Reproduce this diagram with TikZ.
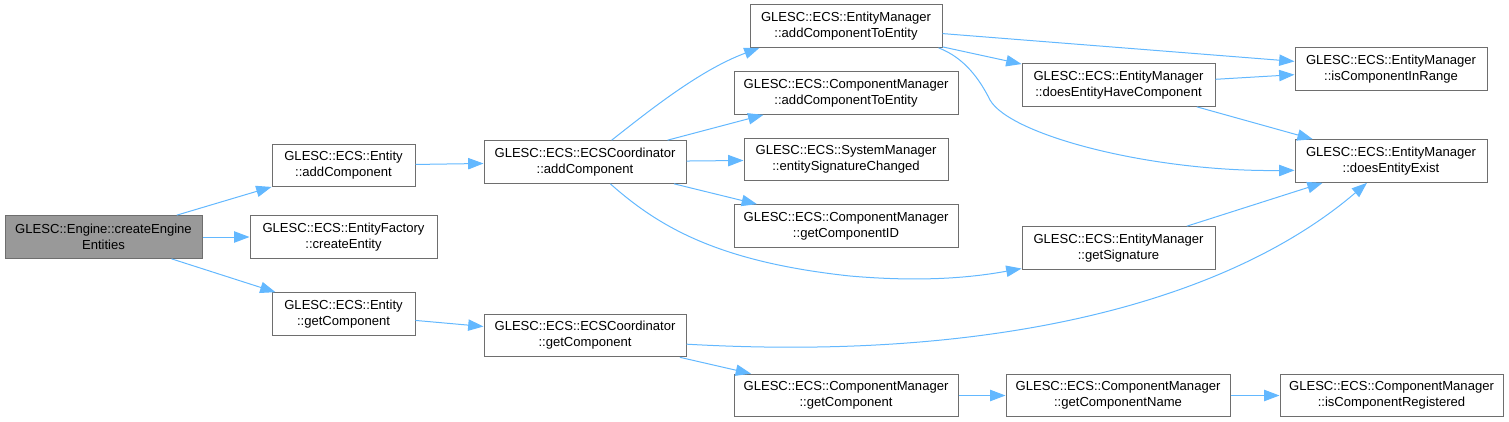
\documentclass[tikz,border=0pt]{standalone}
\usepackage{fontspec}
\setmainfont{Liberation Sans}
\usetikzlibrary{arrows.meta}

\definecolor{callblue}{HTML}{63B8FF}
\definecolor{boxgray}{HTML}{6E6E6E}
\definecolor{rootgray}{HTML}{999999}

\begin{document}
\begin{tikzpicture}[x = 0.75pt, y = -0.75pt, > = {Triangle[length = 11.5pt, width = 8.5pt]},
	fn/.style = {draw = boxgray, fill = white, line width = 0.75pt, align = center, inner sep = 0pt, minimum height = 32pt, font = \fontsize{9.8}{12}\selectfont},
	wd/.style = {minimum width = #1 * 0.75pt},
	call/.style = {->, callblue, line width = 0.75pt}]

	\useasboundingbox (0, 0) rectangle (1509, 421);

	% Caller
	
	\node [fn, wd = 197, fill = rootgray] (root) at (103.5, 237) {GLESC::Engine::createEngine\\Entities};

	% First level
	
	\node [fn, wd = 143] (entAdd) at (343.5, 165.5) {GLESC::ECS::Entity\\::addComponent};
	\node [fn, wd = 187] (factCreate) at (343.5, 237) {GLESC::ECS::EntityFactory\\::createEntity};
	\node [fn, wd = 143] (entGet) at (343.5, 314) {GLESC::ECS::Entity\\::getComponent};

	% Coordinator
	
	\node [fn, wd = 202] (coordAdd) at (585, 162) {GLESC::ECS::ECSCoordinator\\::addComponent};
	\node [fn, wd = 202] (coordGet) at (585, 335.5) {GLESC::ECS::ECSCoordinator\\::getComponent};

	% Managers
	
	\node [fn, wd = 192] (emAddTo) at (846, 26) {GLESC::ECS::EntityManager\\::addComponentToEntity};
	\node [fn, wd = 224] (cmAddTo) at (846, 93) {GLESC::ECS::ComponentManager\\::addComponentToEntity};
	\node [fn, wd = 204] (smChanged) at (846, 159.5) {GLESC::ECS::SystemManager\\::entitySignatureChanged};
	\node [fn, wd = 224] (cmGetID) at (846, 226) {GLESC::ECS::ComponentManager\\::getComponentID};
	\node [fn, wd = 224] (cmGet) at (846, 395.5) {GLESC::ECS::ComponentManager\\::getComponent};

	\node [fn, wd = 193] (emHasComp) at (1118.5, 85) {GLESC::ECS::EntityManager\\::doesEntityHaveComponent};
	\node [fn, wd = 193] (emSignature) at (1118.5, 248) {GLESC::ECS::EntityManager\\::getSignature};
	\node [fn, wd = 224] (cmName) at (1118, 395.5) {GLESC::ECS::ComponentManager\\::getComponentName};

	\node [fn, wd = 192] (emInRange) at (1391, 69) {GLESC::ECS::EntityManager\\::isComponentInRange};
	\node [fn, wd = 192] (emExist) at (1391, 161) {GLESC::ECS::EntityManager\\::doesEntityExist};
	\node [fn, wd = 223] (cmRegistered) at (1391.5, 395.5) {GLESC::ECS::ComponentManager\\::isComponentRegistered};

	% Straight calls
	
	\foreach \a/\b in {root/entAdd, root/factCreate, root/entGet, entAdd/coordAdd, entGet/coordGet,
		coordAdd/cmAddTo, coordAdd/smChanged, coordAdd/cmGetID, coordGet/cmGet, cmGet/cmName, cmName/cmRegistered,
		emAddTo/emInRange, emAddTo/emHasComp, emHasComp/emInRange, emHasComp/emExist, emSignature/emExist}
		\draw [call] (\a) -- (\b);

	% Curved calls
	
	\draw [call] ([xshift = 20pt] coordAdd.north) .. controls (650, 110) and (700, 70) .. ([xshift = 7.5pt] emAddTo.south west);
	\draw [call] ([xshift = 19pt] coordAdd.south) .. controls (660, 228) and (720, 262) .. (850, 276)
		.. controls (930, 283) and (980, 276) .. ([yshift = 1pt] emSignature.south west);
	\draw [call] ([xshift = -3pt] emAddTo.south east) .. controls (965, 58) and (980, 80) .. (990, 100)
		.. controls (1010, 135) and (1150, 172) .. ([yshift = -7pt] emExist.west);
	\draw [call] ([yshift = -6.5pt] coordGet.east) .. controls (1000, 362) and (1230, 300) .. ([xshift = -18pt] emExist.south);

\end{tikzpicture}
\end{document}
